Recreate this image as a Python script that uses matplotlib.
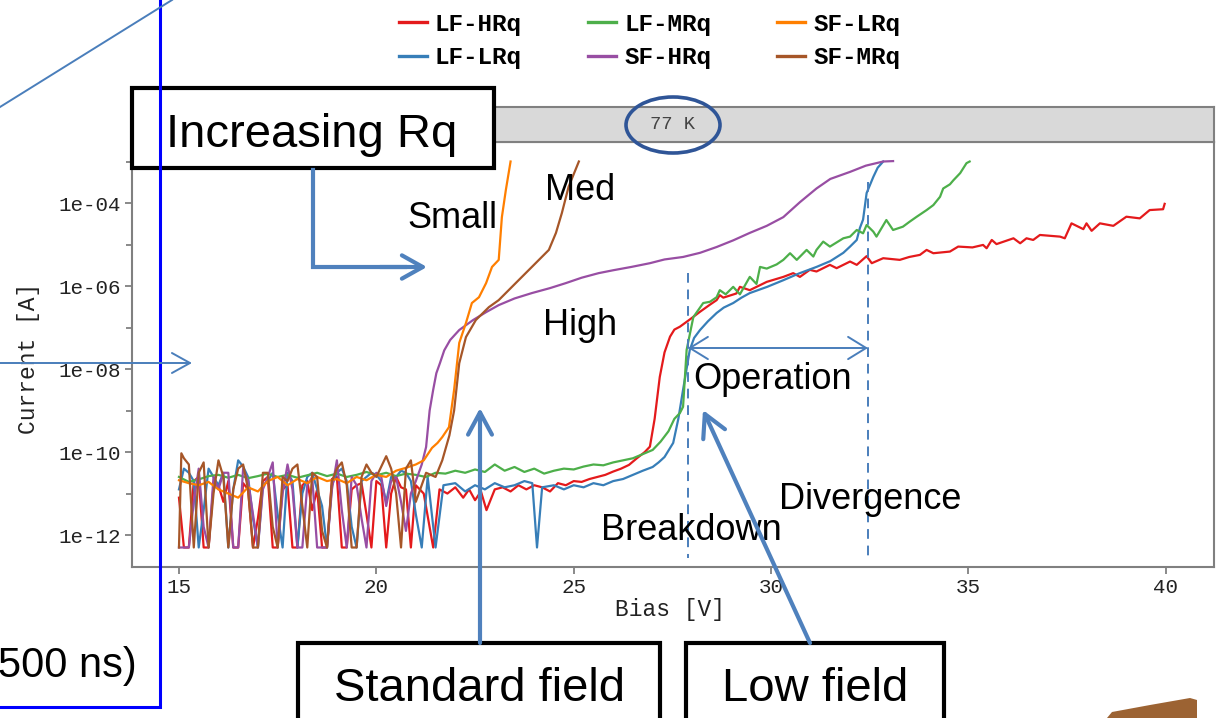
import numpy as np
import matplotlib
matplotlib.use("Agg")
import matplotlib.pyplot as plt
from matplotlib.patches import Rectangle, Ellipse, Polygon
from matplotlib.ticker import FixedLocator, FixedFormatter, NullFormatter

# (bias [V], log10 current [A])
lf_hrq = [(15.0,-11.1),(15.125,-12.3),(15.25,-12.3),(15.375,-10.7),(15.5,-10.6),(15.625,-12.3),(15.75,-12.3),
          (15.875,-10.8),(16.0,-10.8),(16.125,-11.2),(16.25,-10.7),(16.375,-12.3),(16.5,-12.3),(16.625,-10.75),
          (16.75,-10.9),(16.875,-12.3),(17.0,-11.6),(17.125,-10.7),(17.25,-10.6),(17.375,-12.3),(17.5,-12.3),
          (17.625,-10.9),(17.75,-10.8),(17.875,-12.3),(18.0,-12.3),(18.125,-10.8),(18.25,-10.7),(18.375,-11.4),
          (18.5,-10.9),(18.625,-12.3),(18.75,-12.3),(18.875,-10.65),(19.0,-10.6),(19.125,-12.3),(19.25,-12.3),
          (19.375,-10.9),(19.5,-10.8),(19.625,-10.75),(19.75,-11.5),(19.875,-12.3),(20.0,-10.7),(20.125,-10.8),
          (20.25,-12.3),(20.375,-11.0),(20.5,-10.6),(20.625,-10.85),(20.75,-10.9),(20.875,-12.3),(21.0,-10.8),
          (21.2,-11.0),(21.44,-12.3),(21.6,-10.9),
          (21.8,-11.0),(22.0,-10.85),(22.2,-11.1),(22.35,-10.9),(22.5,-11.16),(22.65,-10.95),(22.79,-11.4),
          (23.0,-10.9),(23.2,-10.85),(23.4,-10.95),(23.6,-10.8),(23.8,-10.9),(24.0,-10.8),(24.2,-10.85),
          (24.4,-10.95),(24.6,-10.75),(24.8,-10.8),(25.0,-10.7),(25.2,-10.72),(25.4,-10.65),(25.6,-10.6),
          (25.8,-10.55),(26.0,-10.47),(26.2,-10.4),(26.4,-10.31),(26.6,-10.15),(26.8,-10.0),(26.93,-9.87),
          (27.05,-9.2),(27.18,-8.19),(27.3,-7.6),(27.44,-7.22),(27.55,-7.05),(27.69,-6.98),(27.95,-6.8),
          (28.2,-6.62),(28.45,-6.45),(28.62,-6.34),(28.7,-6.22),(28.79,-6.28),(29.12,-6.18),(29.21,-6.02),
          (29.46,-6.1),(29.89,-5.9),(30.31,-5.78),(30.56,-5.69),(30.73,-5.78),(30.98,-5.61),(31.15,-5.65),
          (31.49,-5.49),(31.66,-5.57),(32.0,-5.41),(32.17,-5.49),(32.42,-5.28),(32.55,-5.45),(32.84,-5.33),
          (33.26,-5.37),(33.5,-5.3),(33.77,-5.25),(33.94,-5.13),(34.11,-5.21),(34.53,-5.17),(34.74,-5.05),
          (35.1,-5.07),(35.37,-5.01),(35.46,-5.09),(35.59,-4.89),(35.71,-4.99),(36.14,-4.85),(36.31,-4.97),
          (36.47,-4.85),(36.64,-4.89),(36.81,-4.77),(37.32,-4.81),(37.44,-4.85),(37.61,-4.49),(37.91,-4.63),
          (37.99,-4.49),(38.12,-4.67),(38.33,-4.49),(38.67,-4.55),(39.0,-4.33),(39.34,-4.37),(39.59,-4.17),
          (39.93,-4.15),(39.97,-4.02)]

lf_lrq = [(15.0,-10.9),(15.125,-10.4),(15.25,-10.5),(15.375,-10.7),(15.5,-12.3),(15.625,-11.4),(15.75,-10.4),
          (15.875,-10.6),(16.0,-10.8),(16.125,-10.5),(16.25,-12.3),(16.375,-10.9),(16.5,-10.2),(16.625,-10.35),
          (16.75,-10.6),(16.875,-11.6),(17.0,-12.3),(17.125,-10.8),(17.25,-10.7),(17.375,-10.5),(17.5,-11.5),
          (17.625,-12.3),(17.75,-10.5),(17.875,-10.7),(18.0,-12.3),(18.125,-11.0),(18.25,-10.6),(18.375,-10.5),
          (18.5,-10.9),(18.625,-11.3),(18.75,-12.3),(18.875,-10.8),(19.0,-10.5),(19.125,-10.4),(19.25,-10.7),
          (19.375,-11.8),(19.5,-12.3),(19.625,-10.7),(19.75,-10.6),(19.875,-10.5),(20.0,-10.55),(20.125,-10.7),
          (20.25,-11.2),(20.375,-10.6),(20.5,-10.6),(20.625,-10.45),(20.75,-10.5),(20.875,-10.7),(21.0,-11.5),
          (21.15,-12.3),(21.3,-10.6),(21.5,-12.3),
          (21.7,-10.8),(22.0,-10.75),(22.25,-10.95),(22.5,-10.8),(22.75,-10.9),(23.0,-10.75),(23.25,-10.85),
          (23.5,-10.8),(23.75,-10.7),(23.95,-10.75),(24.07,-12.3),(24.2,-10.85),(24.5,-10.8),(24.75,-10.9),
          (25.0,-10.8),(25.25,-10.85),(25.5,-10.75),(25.75,-10.8),(26.0,-10.7),(26.25,-10.65),(26.5,-10.55),
          (26.75,-10.45),(27.0,-10.36),(27.15,-10.25),(27.3,-10.12),(27.52,-9.78),(27.65,-9.2),(27.77,-8.5),
          (27.94,-7.54),(28.05,-7.25),(28.2,-7.06),(28.4,-6.85),(28.62,-6.65),(28.8,-6.52),(29.04,-6.41),
          (29.25,-6.28),(29.46,-6.17),(29.9,-6.02),(30.31,-5.86),(30.7,-5.7),(31.15,-5.54),(31.5,-5.4),
          (31.83,-5.2),(32.0,-5.05),(32.17,-4.89),(32.25,-4.6),(32.33,-4.4),(32.42,-3.76),(32.59,-3.37),
          (32.7,-3.15),(32.84,-3.0)]

lf_mrq = [(15.0,-10.6),(15.25,-10.72),(15.5,-10.66),(15.75,-10.58),(16.0,-10.55),(16.25,-10.62),(16.5,-10.55),
          (16.75,-10.63),(17.0,-10.58),(17.25,-10.52),(17.5,-10.6),(17.75,-10.55),(18.0,-10.62),(18.25,-10.56),
          (18.5,-10.5),(18.75,-10.58),(19.0,-10.52),(19.25,-10.6),(19.5,-10.55),(19.75,-10.48),(20.0,-10.56),
          (20.25,-10.5),(20.5,-10.58),(20.75,-10.52),(21.0,-10.55),(21.25,-10.6),(21.5,-10.5),(21.75,-10.52),
          (22.0,-10.45),(22.25,-10.5),(22.5,-10.42),(22.75,-10.48),(23.0,-10.3),(23.25,-10.45),(23.5,-10.36),
          (23.75,-10.48),(24.0,-10.4),(24.25,-10.52),(24.5,-10.45),(24.75,-10.4),(25.0,-10.42),(25.25,-10.35),
          (25.5,-10.3),(25.75,-10.32),(26.0,-10.25),(26.25,-10.2),(26.5,-10.15),(26.75,-10.05),(27.0,-9.95),
          (27.2,-9.75),(27.4,-9.5),(27.55,-9.2),(27.69,-9.06),(27.77,-8.91),(27.86,-7.54),(28.03,-6.75),
          (28.28,-6.41),(28.45,-6.38),(28.62,-6.27),(28.7,-6.1),(28.85,-6.2),(29.04,-6.02),(29.21,-6.2),
          (29.46,-5.78),(29.63,-5.95),(29.72,-5.54),(29.89,-5.58),(30.14,-5.48),(30.31,-5.37),(30.48,-5.21),
          (30.65,-5.37),(30.9,-5.13),(31.07,-5.29),(31.15,-5.13),(31.32,-4.93),(31.49,-5.05),(31.83,-4.85),
          (32.0,-4.81),(32.17,-4.65),(32.33,-4.73),(32.42,-4.53),(32.59,-4.69),(32.67,-4.81),(32.92,-4.41),
          (33.09,-4.65),(33.34,-4.57),(33.51,-4.45),(33.69,-4.33),(33.94,-4.17),(34.11,-4.05),(34.28,-3.85),
          (34.36,-3.65),(34.53,-3.55),(34.62,-3.45),(34.79,-3.28),(34.95,-3.04),(35.03,-3.0)]

sf_hrq = [(15.0,-12.3),(15.125,-12.3),(15.25,-12.3),(15.375,-11.2),(15.5,-10.4),(15.625,-11.8),(15.75,-12.3),
          (15.875,-10.6),(16.0,-10.9),(16.125,-10.5),(16.25,-10.5),(16.375,-12.3),(16.5,-12.3),(16.625,-10.4),
          (16.75,-10.7),(16.875,-11.5),(17.0,-12.3),(17.125,-10.9),(17.25,-10.6),(17.375,-10.25),(17.5,-12.3),
          (17.625,-11.0),(17.75,-10.3),(17.875,-10.9),(18.0,-12.3),(18.125,-12.3),(18.25,-10.8),(18.375,-10.6),
          (18.5,-12.3),(18.625,-12.3),(18.75,-12.3),(18.875,-10.9),(19.0,-10.2),(19.125,-11.4),(19.25,-12.3),
          (19.375,-10.6),(19.5,-10.8),(19.625,-11.6),(19.75,-12.3),(19.875,-10.7),(20.0,-10.5),(20.125,-10.6),
          (20.25,-11.3),(20.375,-10.7),(20.5,-10.6),(20.625,-11.2),(20.75,-11.9),(20.875,-11.0),(21.0,-10.7),
          (21.15,-10.3),(21.26,-9.88),
          (21.35,-9.0),(21.44,-8.5),(21.52,-8.1),(21.61,-7.86),(21.72,-7.55),(21.87,-7.3),(22.1,-7.06),
          (22.45,-6.82),(22.78,-6.63),(23.1,-6.46),(23.5,-6.3),(23.94,-6.17),(24.4,-6.05),(24.8,-5.93),
          (25.2,-5.8),(25.63,-5.69),(26.0,-5.62),(26.46,-5.54),(26.93,-5.45),(27.3,-5.36),(27.77,-5.3),
          (28.2,-5.2),(28.62,-5.06),(29.04,-4.9),(29.46,-4.72),(29.89,-4.55),(30.31,-4.34),(30.73,-3.98),
          (31.15,-3.65),(31.5,-3.42),(32.0,-3.25),(32.4,-3.1),(32.84,-3.0),(33.09,-2.99)]

sf_lrq = [(15.0,-10.68),(15.25,-10.75),(15.5,-10.8),(15.75,-10.72),(16.0,-10.9),(16.25,-11.0),(16.5,-11.1),
          (16.75,-10.85),(17.0,-10.95),(17.25,-10.7),(17.5,-10.6),(17.75,-10.8),(18.0,-10.65),(18.25,-10.75),
          (18.5,-10.6),(18.75,-10.7),(19.0,-10.65),(19.25,-10.75),(19.5,-10.6),(19.75,-10.68),(20.0,-10.55),
          (20.25,-10.6),(20.5,-10.45),(20.75,-10.38),(21.0,-10.3),(21.2,-10.2),(21.41,-9.9),(21.55,-9.78),
          (21.67,-9.64),(21.84,-9.4),(21.97,-8.5),(22.1,-7.37),(22.27,-6.89),(22.42,-6.41),(22.6,-6.27),
          (22.78,-5.93),(22.93,-5.54),(23.1,-5.37),(23.18,-4.34),(23.28,-3.69),(23.4,-3.0)]

sf_mrq = [(15.0,-12.3),(15.06,-10.03),(15.125,-10.15),(15.25,-10.3),(15.375,-12.3),(15.5,-10.5),(15.625,-10.25),
          (15.75,-12.3),(15.875,-11.0),(16.0,-10.2),(16.125,-10.6),(16.25,-12.3),(16.375,-10.9),(16.5,-10.4),
          (16.625,-10.3),(16.75,-10.9),(16.875,-12.3),(17.0,-12.3),(17.125,-10.5),(17.25,-10.5),(17.375,-11.8),
          (17.5,-12.3),(17.625,-10.6),(17.75,-10.7),(17.875,-10.4),(18.0,-10.3),(18.125,-11.3),(18.25,-12.3),
          (18.375,-10.5),(18.5,-10.6),(18.625,-11.9),(18.75,-12.3),(18.875,-10.7),(19.0,-10.4),(19.125,-10.25),
          (19.25,-10.8),(19.375,-12.3),(19.5,-12.3),(19.625,-10.6),(19.75,-10.3),(19.875,-10.5),(20.0,-10.6),
          (20.125,-10.35),(20.25,-10.1),(20.375,-10.4),(20.5,-11.0),(20.625,-12.3),(20.75,-10.4),(20.875,-10.2),
          (21.0,-11.2),(21.26,-10.5),(21.5,-10.6),
          (21.67,-10.2),(21.85,-9.6),(21.97,-9.0),(22.1,-7.86),(22.27,-7.23),(22.52,-6.82),(22.85,-6.51),
          (23.1,-6.34),(23.53,-5.93),(23.94,-5.54),(24.37,-5.13),(24.55,-4.72),(24.7,-4.24),(24.87,-3.61),
          (25.13,-3.0)]

series_names = ["LF-HRq", "LF-LRq", "LF-MRq", "SF-HRq", "SF-LRq", "SF-MRq"]
series_data = [lf_hrq, lf_lrq, lf_mrq, sf_hrq, sf_lrq, sf_mrq]
series_colors = ["#e41a1c", "#377eb8", "#4daf4a", "#984ea3", "#ff7f00", "#a65628"]

major_y = [1e-12, 1e-10, 1e-08, 1e-06, 1e-04]
major_y_labels = ["1e-12", "1e-10", "1e-08", "1e-06", "1e-04"]
minor_y = [1e-11, 1e-09, 1e-07, 1e-05, 1e-03]
x_ticks = [15, 20, 25, 30, 35, 40]

plt.rcParams['font.family'] = ['Liberation Mono', 'DejaVu Sans Mono']

W, H = 1218, 718
fig = plt.figure(figsize=(W / 100, H / 100), dpi=100)


def box(l, t, r, b):
    return [l / W, 1 - b / H, (r - l) / W, (b - t) / H]


grey = "#808080"
ax = fig.add_axes(box(132, 142, 1214, 567))
lines = []
for name, pts, col in zip(series_names, series_data, series_colors):
    v, logi = np.array(pts).T
    ln, = ax.plot(v, 10.0 ** logi, color=col, lw=1.6, label=name)
    lines.append(ln)

ax.set_yscale('log')
ax.set_xlim(13.81, 41.22)
ax.set_ylim(10 ** -12.77, 10 ** -2.53)
ax.yaxis.set_major_locator(FixedLocator(major_y))
ax.yaxis.set_major_formatter(FixedFormatter(major_y_labels))
ax.yaxis.set_minor_locator(FixedLocator(minor_y))
ax.yaxis.set_minor_formatter(NullFormatter())
ax.set_xticks(x_ticks)
ax.tick_params(which='major', length=5, width=1.3, color=grey, labelsize=15,
               labelcolor='#222222', pad=3)
ax.tick_params(which='minor', length=4, width=1.3, color=grey)
for s in ax.spines.values():
    s.set_color(grey)
    s.set_linewidth(1.5)
ax.set_xlabel("Bias [V]", fontsize=16.5, color='#222222')
ax.set_ylabel("Current [A]", fontsize=16.5, color='#222222')
ax.xaxis.set_label_coords((670 - 132) / 1082, -(598 - 567) / 425)
ax.yaxis.set_label_coords(-(132 - 40) / 1082, (567 - 358) / 425)

hdr = fig.add_axes(box(132, 107, 1214, 142))
hdr.set_facecolor('#d9d9d9')
hdr.set_xticks([])
hdr.set_yticks([])
for s in hdr.spines.values():
    s.set_color(grey)
    s.set_linewidth(1.5)
hdr.text(0.5, 0.5, "77 K", transform=hdr.transAxes, ha='center', va='center',
         fontsize=13.5, color='#444444')

leg = fig.legend(handles=lines, labels=series_names, ncol=3, loc='upper left',
                 bbox_to_anchor=(399 / W, 1 - 13 / H), frameon=False,
                 prop={'family': 'Liberation Mono', 'weight': 'bold', 'size': 17.5},
                 handlelength=1.15, handletextpad=0.33, columnspacing=2.72,
                 labelspacing=0.42, borderpad=0, borderaxespad=0)
for h in leg.legend_handles:
    h.set_linewidth(2.4)

# slide annotations drawn on top, in pixel coordinates
ov = fig.add_axes([0, 0, 1, 1], zorder=10)
ov.set_xlim(0, W)
ov.set_ylim(H, 0)
ov.axis('off')
ov.patch.set_alpha(0)

thick = "#4f81bd"
thin = "#4a7ebb"
sans = 'Liberation Sans'


def arrow(x0, y0, x1, y1, lw, hl, hw, color, style='->'):
    ov.annotate('', xy=(x1, y1), xytext=(x0, y0),
                arrowprops=dict(arrowstyle=f'{style},head_length={hl},head_width={hw}',
                                lw=lw, color=color, shrinkA=0, shrinkB=0,
                                mutation_scale=20))


ov.plot([160, 160, 0], [0, 707, 707], color='#0000ff', lw=2.2, solid_joinstyle='miter')
ov.plot([0, 172], [107, 0], color=thin, lw=1.4)
arrow(0, 363, 192, 363, 1.4, 0.65, 0.36, thin)
ov.text(137, 677, "(500 ns)", family=sans, fontsize=30, ha='right', va='baseline')

ov.add_patch(Rectangle((132, 88), 362, 80, facecolor='white', edgecolor='black', lw=3))
ov.text(312, 147, "Increasing Rq", family=sans, fontsize=34, ha='center', va='baseline')
ov.plot([313, 313, 405], [170, 267, 267], color=thick, lw=3, solid_joinstyle='miter')
arrow(380, 267, 427, 267, 3, 0.75, 0.42, thick)

for label, x, y in [("Small", 407, 228), ("Med", 545, 200), ("High", 543, 335),
                    ("Operation", 693, 389), ("Breakdown", 601, 540),
                    ("Divergence", 779, 509)]:
    ov.text(x, y, label, family=sans, fontsize=26, ha='left', va='baseline')

ov.plot([688, 688], [273, 558], color=thin, lw=1.4, dashes=(5, 3.5))
ov.plot([868, 868], [182, 558], color=thin, lw=1.4, dashes=(5, 3.5))
arrow(688, 348, 868, 348, 1.4, 0.65, 0.4, thin, style='<->')

ov.add_patch(Rectangle((298, 643), 362, 100, facecolor='white', edgecolor='black', lw=3))
ov.text(479, 701, "Standard field", family=sans, fontsize=34, ha='center', va='baseline')
ov.add_patch(Rectangle((686, 643), 258, 100, facecolor='white', edgecolor='black', lw=3))
ov.text(815, 701, "Low field", family=sans, fontsize=34, ha='center', va='baseline')

arrow(480, 643, 480, 408, 3, 0.8, 0.43, thick)
arrow(810, 643, 703, 410, 3, 0.8, 0.43, thick)

ov.add_patch(Ellipse((673, 125), 94, 56, fill=False, edgecolor='#2f5597', lw=2.6))
ov.add_patch(Polygon([(1107, 718), (1112, 712), (1150, 705), (1190, 698), (1197, 700), (1197, 718)],
                     closed=True, facecolor='#9c6333', edgecolor='none'))

fig.savefig("out.png", dpi=100)
